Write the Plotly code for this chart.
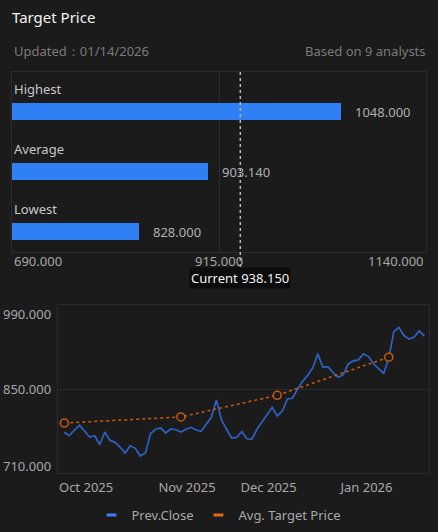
import plotly.graph_objects as go

W, H = 438, 532

# ---------------- data ----------------
categories = ["Highest", "Average", "Lowest"]
target_values = [1048.0, 903.14, 828.0]
current_price = 938.15
bar_ticks = [690, 915, 1140]
bar_tick_text = ["690.000", "915.000", "1140.000"]

close_prices = [
    778.2, 772.5, 782.0, 789.8, 780.3, 770.3, 772.5, 757.5, 778.7, 764.8,
    761.5, 753.7, 743.7, 755.8, 751.5, 738.7, 743.7, 775.8, 783.2, 785.3,
    777.0, 783.7, 782.5, 778.7, 783.2, 786.5, 782.0, 779.8, 791.5, 803.2,
    832.0, 798.7, 783.2, 768.7, 769.8, 779.2, 767.5, 767.0, 783.2, 795.3,
    807.5, 819.8, 805.3, 813.7, 833.7, 834.8, 850.3, 863.0, 873.0, 885.3,
    908.7, 886.5, 887.5, 877.5, 869.8, 873.7, 892.0, 897.0, 898.7, 908.7,
    904.2, 892.0, 883.7, 876.5, 901.5, 945.8, 952.5, 939.2, 933.2, 936.5,
    947.0, 938.15,
]
avg_target_idx = [0, 23, 42, 64]
avg_target_vals = [793.7, 803.7, 839.8, 903.14]
month_tick_pos = [4.3, 24.2, 40.3, 59.6]
month_tick_text = ["Oct 2025", "Nov 2025", "Dec 2025", "Jan 2026"]
price_ticks = [710, 850, 990]
price_tick_text = ["710.000", "850.000", "990.000"]

# ---------------- style ----------------
BG = "#1b1b1b"
GRID = "#2c2c2c"
BAR = "#2f7ff5"
BLUE_LINE = "#2b62c4"
ORANGE = "#c4560f"
FONT = "Noto Sans"
TXT = "#a8a8a8"


def px_x(p):
    return p / W


def px_y(p):
    return 1 - p / H


fig = go.Figure()

# top: horizontal bars
fig.add_trace(go.Bar(
    x=target_values, y=categories, orientation="h",
    marker=dict(color=BAR, line=dict(width=0)),
    width=0.283, offset=-0.3,
    xaxis="x", yaxis="y", showlegend=False, hoverinfo="x+y",
))

# bottom: lines
xs = list(range(len(close_prices)))
fig.add_trace(go.Scatter(
    x=xs, y=close_prices, mode="lines",
    line=dict(color=BLUE_LINE, width=1.7),
    xaxis="x2", yaxis="y2", name="Prev.Close",
    legendgroup="close", showlegend=False,
))
fig.add_trace(go.Scatter(
    x=avg_target_idx, y=avg_target_vals, mode="lines+markers",
    line=dict(color=ORANGE, width=1.6, dash="dot"),
    marker=dict(symbol="circle", size=8, color=BG,
                line=dict(color=ORANGE, width=1.6)),
    xaxis="x2", yaxis="y2", name="Avg. Target Price",
    legendgroup="avg", showlegend=False,
))
# legend entries (short dash symbols)
fig.add_trace(go.Scatter(
    x=[None], y=[None], mode="markers", name="Prev.Close",
    marker=dict(symbol="line-ew", size=7, line=dict(color="#3b82f6", width=3)),
    xaxis="x2", yaxis="y2", legendgroup="close",
))
fig.add_trace(go.Scatter(
    x=[None], y=[None], mode="markers", name="Avg. Target Price",
    marker=dict(symbol="line-ew", size=7, line=dict(color="#e8690f", width=3)),
    xaxis="x2", yaxis="y2", legendgroup="avg",
))

annotations = []
# header
annotations.append(dict(text="Target Price", x=px_x(10), y=px_y(17), xref="paper", yref="paper",
                        xanchor="left", yanchor="middle", showarrow=False,
                        font=dict(size=15, color="#f2f2f2", family=FONT)))
annotations.append(dict(text="Updated：01/14/2026", x=px_x(12), y=px_y(51), xref="paper", yref="paper",
                        xanchor="left", yanchor="middle", showarrow=False,
                        font=dict(size=13, color="#7a7a7a", family=FONT)))
annotations.append(dict(text="Based on 9 analysts", x=px_x(428), y=px_y(51), xref="paper", yref="paper",
                        xanchor="right", yanchor="middle", showarrow=False,
                        font=dict(size=13, color="#7a7a7a", family=FONT)))
# category labels & value labels
for c, v in zip(categories, target_values):
    annotations.append(dict(text=c, x=px_x(12), y=c, xref="paper", yref="y", yshift=13,
                            xanchor="left", yanchor="middle", showarrow=False,
                            font=dict(size=13, color="#c8c8c8", family=FONT)))
    annotations.append(dict(text=f"{v:.3f}", x=v, y=c, xref="x", yref="y", xshift=12, yshift=-9.5,
                            xanchor="left", yanchor="middle", showarrow=False,
                            font=dict(size=13, color="#b0b0b0", family=FONT)))
# bar axis tick labels
for t, s, anc in zip(bar_ticks, bar_tick_text, ["left", "center", "right"]):
    annotations.append(dict(text=s, x=t, y=px_y(261), xref="x", yref="paper",
                            xanchor=anc, yanchor="middle", showarrow=False,
                            font=dict(size=13, color=TXT, family=FONT)))
# current price label
annotations.append(dict(text=f"Current {current_price:.3f}", x=current_price, y=px_y(278),
                        xref="x", yref="paper", xanchor="center", yanchor="middle",
                        showarrow=False, bgcolor="#0c0c0c", borderpad=1,
                        font=dict(size=13, color="#f0f0f0", family=FONT)))
# bottom y tick labels (min/max aligned inside)
for t, s, sh in zip(price_ticks, price_tick_text, [7, 0, -9]):
    annotations.append(dict(text=s, x=px_x(53), y=t, xref="paper", yref="y2", yshift=sh,
                            xanchor="right", yanchor="middle", showarrow=False,
                            font=dict(size=13, color=TXT, family=FONT)))

shapes = [dict(type="line", xref="x", yref="paper", x0=current_price, x1=current_price,
               y0=px_y(72), y1=px_y(269), line=dict(color="#b8b8b8", width=1.5, dash="3px,3px"))]

fig.update_layout(
    width=W, height=H,
    margin=dict(l=0, r=0, t=0, b=0),
    paper_bgcolor=BG, plot_bgcolor=BG,
    font=dict(family=FONT, size=13, color=TXT),
    bargap=0,
    xaxis=dict(domain=[px_x(12), px_x(426)], range=[690, 1140], anchor="y",
               tickvals=bar_ticks, showticklabels=False, showgrid=True, gridcolor=GRID,
               zeroline=False, showline=True, mirror=True, linecolor=GRID, linewidth=1,
               fixedrange=True),
    yaxis=dict(domain=[px_y(252), px_y(72)], anchor="x", type="category",
               categoryorder="array", categoryarray=categories[::-1], range=[-0.5, 2.5],
               showticklabels=False, showgrid=False, zeroline=False,
               showline=True, mirror=True, linecolor=GRID, linewidth=1, fixedrange=True),
    xaxis2=dict(domain=[px_x(58), px_x(429)], range=[-1.24, 71.93], anchor="y2",
                tickvals=month_tick_pos, ticktext=month_tick_text, ticks="",
                tickfont=dict(size=13, color=TXT, family=FONT), ticklabelstandoff=2,
                showgrid=False, zeroline=False, showline=True, mirror=True,
                linecolor=GRID, linewidth=1),
    yaxis2=dict(domain=[px_y(473.3), px_y(305)], range=[710, 990], anchor="x2",
                tickvals=price_ticks, showticklabels=False, showgrid=True, gridcolor=GRID,
                zeroline=False, showline=True, mirror=True, linecolor=GRID, linewidth=1),
    legend=dict(orientation="h", x=0.5, xanchor="center", y=px_y(515), yanchor="middle",
                font=dict(size=13, color=TXT, family=FONT), itemwidth=30,
                bgcolor="rgba(0,0,0,0)", traceorder="normal"),
    annotations=annotations, shapes=shapes,
)

fig.write_html(
    "out.html",
    config={"displayModeBar": False},
    post_script="document.body.style.margin='0';document.body.style.background='%s';" % BG,
)
